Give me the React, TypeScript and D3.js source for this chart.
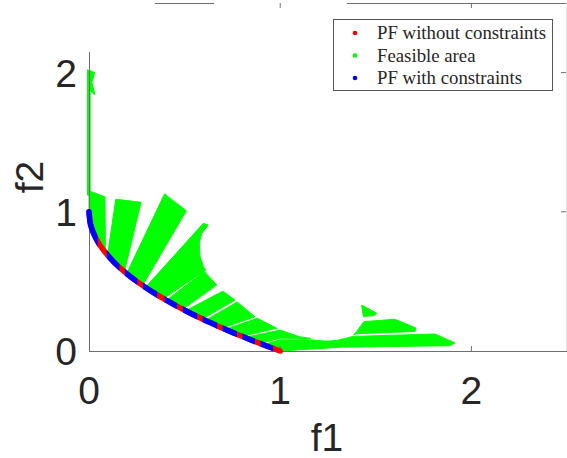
import React, { useRef, useEffect } from 'react';
import * as d3 from 'd3';

type Pt = [number, number];

// PF without constraints
const pfF1 = [0, 0.005, 0.01, 0.02, 0.03, 0.05, 0.07, 0.1, 0.13, 0.16, 0.2, 0.25, 0.3, 0.35, 0.4, 0.45, 0.5, 0.55, 0.6, 0.65, 0.7, 0.75, 0.8, 0.85, 0.9, 0.95, 1.0];
const pfF2 = [1, 0.929, 0.9, 0.859, 0.827, 0.776, 0.735, 0.684, 0.639, 0.6, 0.553, 0.5, 0.452, 0.408, 0.368, 0.329, 0.293, 0.258, 0.225, 0.194, 0.163, 0.134, 0.106, 0.078, 0.051, 0.025, 0];

// f1 ranges where the constrained PF (blue) lies on the curve
const blueRanges: Pt[] = [
  [0, 0.045], [0.093, 0.159], [0.187, 0.253], [0.282, 0.357], [0.395, 0.461],
  [0.49, 0.566], [0.594, 0.67], [0.698, 0.774], [0.802, 0.868], [0.897, 0.963],
];

// feasible area pieces, outlines in (f1, f2)
const stripTop: Pt[] = [[-0.008, 2.02], [0.03, 2.0], [0.015, 1.93], [0.031, 1.84], [0.006, 1.87], [0.006, 1.12], [-0.008, 1.12]];
const wedge1: Pt[] = [[0, 1.15], [0.083, 1.108], [0.086, 0.707], [0.05, 0.776], [0.02, 0.859], [0.005, 0.929], [0, 1]];
const wedge2: Pt[] = [[0.14, 1.09], [0.272, 1.068], [0.185, 0.57], [0.16, 0.6], [0.13, 0.639], [0.097, 0.689]];
const wedge3: Pt[] = [[0.395, 1.128], [0.509, 1.008], [0.28, 0.471], [0.25, 0.5], [0.197, 0.556]];
const wedge4: Pt[] = [[0.295, 0.457], [0.598, 0.917], [0.624, 0.905], [0.589, 0.845], [0.577, 0.774], [0.581, 0.678], [0.598, 0.606], [0.61, 0.582], [0.39, 0.376], [0.35, 0.408]];
const wedge5: Pt[] = [[0.405, 0.364], [0.603, 0.572], [0.668, 0.474], [0.49, 0.3], [0.45, 0.329]];
const wedge6: Pt[] = [[0.505, 0.289], [0.7, 0.43], [0.764, 0.366], [0.593, 0.23], [0.55, 0.258]];
const wedge7: Pt[] = [[0.608, 0.22], [0.775, 0.352], [0.868, 0.246], [0.697, 0.165], [0.65, 0.194]];
const wedge8: Pt[] = [[0.712, 0.156], [0.88, 0.235], [0.982, 0.163], [0.8, 0.106], [0.75, 0.134]];
const wedge9: Pt[] = [[0.815, 0.097], [1.0, 0.15], [1.1, 0.103], [1.16, 0.09], [1.0, 0.092], [0.895, 0.054], [0.85, 0.078]];
const bottomBand: Pt[] = [[0.91, 0.046], [1.0, 0.08], [1.16, 0.08], [1.24, 0.07], [1.3, 0.077], [1.35, 0.093], [1.38, 0.105], [1.81, 0.122], [1.914, 0.058], [1.888, 0.038], [1.313, 0.027], [1.0, 0.0], [0.95, 0.025]];
const middleBand: Pt[] = [[1.385, 0.118], [1.4, 0.14], [1.418, 0.175], [1.438, 0.211], [1.6, 0.228], [1.71, 0.165], [1.705, 0.14], [1.4, 0.124]];
const island: Pt[] = [[1.426, 0.33], [1.505, 0.271], [1.49, 0.255], [1.435, 0.247]];
const feasibleAreas = [stripTop, wedge1, wedge2, wedge3, wedge4, wedge5, wedge6, wedge7, wedge8, wedge9, bottomBand, middleBand, island];

const xTicks = [0, 1, 2];
const yTicks = [0, 1, 2];
const legendLabels = ['PF without constraints', 'Feasible area', 'PF with constraints'];
const legendColors = ['#ff0000', '#00ff00', '#0000ff'];

const Chart = () => {
  const svgRef = useRef<SVGSVGElement>(null);

  useEffect(() => {
    const svg = d3.select(svgRef.current);
    svg.selectAll('*').remove();

    const x = d3.scaleLinear().domain([0, 2.5]).range([89, 567]);
    const y = d3.scaleLinear().domain([0, 2.5]).range([351, 3]);
    const axisColor = '#6e6e6e';
    const textColor = '#262626';

    // feasible area
    const area = d3.line<Pt>().x(d => x(d[0])).y(d => y(d[1])).curve(d3.curveLinearClosed);
    svg.append('g')
      .selectAll('path')
      .data(feasibleAreas)
      .enter()
      .append('path')
      .attr('d', d => area(d))
      .attr('fill', '#00ff00')
      .attr('stroke', '#00ff00')
      .attr('stroke-width', 1)
      .attr('stroke-linejoin', 'round');

    // axes box
    const axes = svg.append('g').attr('stroke', axisColor).attr('stroke-width', 1).attr('fill', 'none');
    axes.append('line').attr('x1', 89).attr('x2', 567).attr('y1', 351.5).attr('y2', 351.5);
    axes.append('line').attr('x1', 89.5).attr('x2', 89.5).attr('y1', 52).attr('y2', 351);
    axes.append('line').attr('x1', 155).attr('x2', 214).attr('y1', 3.5).attr('y2', 3.5);
    axes.append('line').attr('x1', 347).attr('x2', 567).attr('y1', 3.5).attr('y2', 3.5);
    axes.append('line').attr('x1', 566.5).attr('x2', 566.5).attr('y1', 3).attr('y2', 351).attr('stroke', '#e4e4e4');
    xTicks.filter(t => t > 0).forEach(t => {
      axes.append('line').attr('x1', x(t)).attr('x2', x(t)).attr('y1', 351).attr('y2', 346);
      axes.append('line').attr('x1', x(t)).attr('x2', x(t)).attr('y1', 3).attr('y2', 8);
    });
    yTicks.filter(t => t > 0).forEach(t => {
      axes.append('line').attr('x1', 566).attr('x2', 561).attr('y1', y(t)).attr('y2', y(t));
    });

    // PF curves
    const pts: Pt[] = pfF1.map((f, i) => [f, pfF2[i]]);
    const curve = d3.line<Pt>().x(d => x(d[0])).y(d => y(d[1])).curve(d3.curveMonotoneX);

    svg.append('path')
      .attr('d', curve(pts))
      .attr('fill', 'none')
      .attr('stroke', '#ff0000')
      .attr('stroke-width', 5.5)
      .attr('stroke-linecap', 'round');

    const clip = svg.append('clipPath').attr('id', 'blue-clip');
    clip.selectAll('rect')
      .data(blueRanges)
      .enter()
      .append('rect')
      .attr('x', d => (d[0] === 0 ? 0 : x(d[0])))
      .attr('width', d => x(d[1]) - (d[0] === 0 ? 0 : x(d[0])))
      .attr('y', 0)
      .attr('height', 458);

    svg.append('path')
      .attr('d', curve(pts))
      .attr('clip-path', 'url(#blue-clip)')
      .attr('fill', 'none')
      .attr('stroke', '#0000ff')
      .attr('stroke-width', 5.5)
      .attr('stroke-linecap', 'round');

    // tick labels
    const font = 'Liberation Sans, Arial, Helvetica, sans-serif';
    svg.append('g')
      .selectAll('text')
      .data(xTicks)
      .enter()
      .append('text')
      .attr('x', d => x(d))
      .attr('y', 404)
      .attr('text-anchor', 'middle')
      .attr('font-family', font)
      .attr('font-size', 39)
      .attr('fill', textColor)
      .text(d => d);

    svg.append('g')
      .selectAll('text')
      .data(yTicks)
      .enter()
      .append('text')
      .attr('x', 77)
      .attr('y', d => y(d) + 14)
      .attr('text-anchor', 'end')
      .attr('font-family', font)
      .attr('font-size', 39)
      .attr('fill', textColor)
      .text(d => d);

    svg.append('text')
      .attr('x', 327)
      .attr('y', 451)
      .attr('text-anchor', 'middle')
      .attr('font-family', font)
      .attr('font-size', 39)
      .attr('fill', textColor)
      .text('f1');

    svg.append('text')
      .attr('transform', 'translate(43,177) rotate(-90)')
      .attr('text-anchor', 'middle')
      .attr('font-family', font)
      .attr('font-size', 39)
      .attr('fill', textColor)
      .text('f2');

    // legend
    const legend = svg.append('g');
    legend.append('rect')
      .attr('x', 333.5)
      .attr('y', 19.5)
      .attr('width', 219)
      .attr('height', 71)
      .attr('fill', '#ffffff')
      .attr('stroke', '#555555')
      .attr('stroke-width', 1);

    const rows = legend.selectAll('g.row')
      .data(legendLabels)
      .enter()
      .append('g')
      .attr('transform', (d, i) => `translate(0,${33 + i * 22.5})`);

    rows.append('circle')
      .attr('cx', 355)
      .attr('cy', 0)
      .attr('r', 2.3)
      .attr('fill', (d, i) => legendColors[i]);

    rows.append('text')
      .attr('x', 377)
      .attr('y', 6)
      .attr('font-family', 'Liberation Serif, Times New Roman, serif')
      .attr('font-size', 18.8)
      .attr('fill', textColor)
      .text(d => d);
  }, []);

  return <svg ref={svgRef} width={567} height={458} style={{ position: 'absolute', left: 0, top: 0, background: '#ffffff' }}></svg>;
};

export default function App() {
  return <Chart />;
}
